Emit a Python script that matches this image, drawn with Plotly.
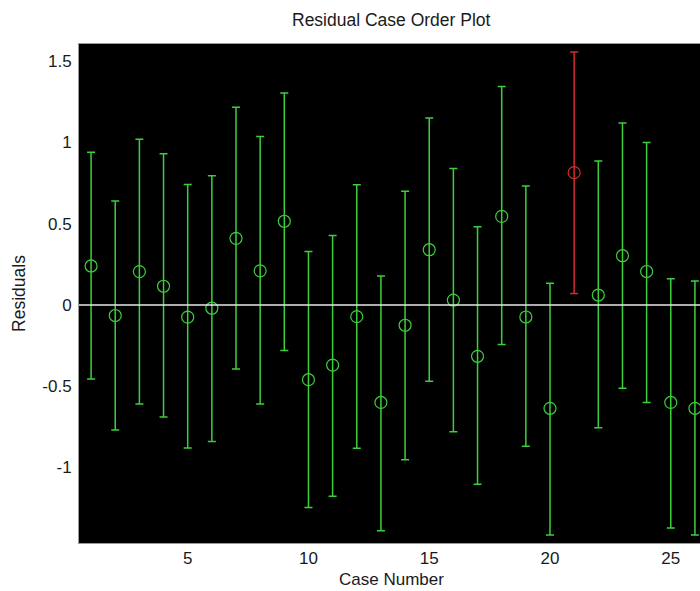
import plotly.graph_objects as go

# ---- data ----
cases = list(range(1, 27))
residuals = [0.24, -0.065, 0.205, 0.115, -0.075, -0.02, 0.41, 0.21, 0.515, -0.46,
             -0.37, -0.072, -0.60, -0.125, 0.34, 0.03, -0.316, 0.545, -0.074, -0.636,
             0.814, 0.061, 0.303, 0.206, -0.60, -0.636]
upper = [0.94, 0.64, 1.02, 0.93, 0.742, 0.795, 1.217, 1.037, 1.304, 0.329,
         0.428, 0.74, 0.178, 0.70, 1.151, 0.84, 0.481, 1.344, 0.732, 0.134,
         1.556, 0.886, 1.12, 1.0, 0.161, 0.148]
lower = [-0.456, -0.77, -0.61, -0.69, -0.88, -0.84, -0.394, -0.61, -0.28, -1.247,
         -1.177, -0.882, -1.389, -0.952, -0.469, -0.78, -1.103, -0.244, -0.869, -1.416,
         0.07, -0.755, -0.513, -0.60, -1.372, -1.416]
x_tickvals = [5, 10, 15, 20, 25]
y_tickvals = [-1, -0.5, 0, 0.5, 1, 1.5]
y_ticktext = ["-1", "-0.5", "0", "0.5", "1", "1.5"]

GREEN = "#3ccf3c"
RED = "#d42a30"
FONT = "Liberation Sans, Arial, sans-serif"

fig = go.Figure()

def add_group(mask, color):
    xs = [c for c, m in zip(cases, mask) if m]
    ys = [r for r, m in zip(residuals, mask) if m]
    up = [u - r for u, r, m in zip(upper, residuals, mask) if m]
    dn = [r - l for l, r, m in zip(lower, residuals, mask) if m]
    fig.add_trace(go.Scatter(
        x=xs, y=ys, mode="markers",
        marker=dict(symbol="circle-open", size=12, color=color, line=dict(width=1.2, color=color)),
        error_y=dict(type="data", symmetric=False, array=up, arrayminus=dn,
                     color=color, thickness=1.5, width=4),
        showlegend=False, hoverinfo="skip",
    ))

outlier = [(l > 0) or (u < 0) for l, u in zip(lower, upper)]
add_group([not o for o in outlier], GREEN)
add_group(outlier, RED)

fig.add_hline(y=0, line=dict(color="#e8e8e8", width=1.5))

fig.update_layout(
    width=700, height=591,
    margin=dict(l=79, r=0, t=44, b=48),
    paper_bgcolor="white", plot_bgcolor="black",
    font=dict(family=FONT, size=17, color="#1a1a1a"),
    annotations=[
        dict(text="Residual Case Order Plot", xref="paper", yref="paper",
             x=0.504, y=1.048, xanchor="center", yanchor="middle", showarrow=False,
             font=dict(family=FONT, size=17.5, color="#1a1a1a")),
        dict(text="Case Number", xref="paper", yref="paper",
             x=0.504, y=-0.0935, xanchor="center", yanchor="bottom", showarrow=False,
             borderpad=0,
             font=dict(family=FONT, size=17, color="#1a1a1a")),
        dict(text="Residuals", xref="paper", yref="paper", textangle=-90,
             x=-0.0975, y=0.5, xanchor="center", yanchor="middle", showarrow=False,
             font=dict(family=FONT, size=17.5, color="#1a1a1a")),
    ],
)
fig.update_xaxes(range=[0.5, 26.21], tickvals=x_tickvals, showgrid=False, zeroline=False,
                 showline=True, mirror=True, linecolor="#9a9a9a", linewidth=1,
                 ticks="", ticklen=0)
fig.update_yaxes(range=[-1.465, 1.606], tickvals=y_tickvals, ticktext=y_ticktext,
                 showgrid=False, zeroline=False,
                 showline=True, mirror=True, linecolor="#9a9a9a", linewidth=1,
                 ticks="outside", ticklen=3, tickcolor="white")

fig.write_html("out.html")
